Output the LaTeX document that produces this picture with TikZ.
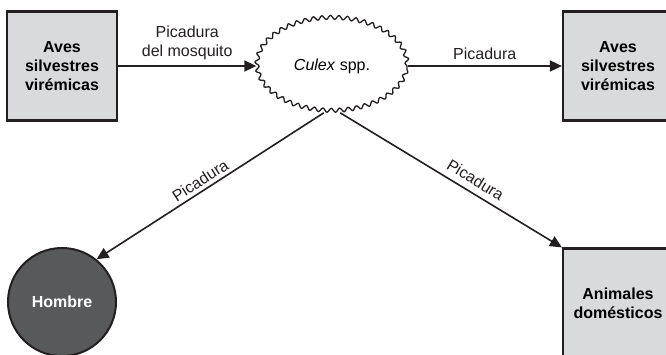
\documentclass[tikz,border=0pt]{standalone}
\usepackage{fontspec}
\setmainfont{Liberation Sans}
\usetikzlibrary{arrows.meta,positioning,shapes.geometric,decorations.pathmorphing}
\definecolor{ink}{HTML}{231F20}
\definecolor{boxgray}{HTML}{D9DADB}
\definecolor{darkgray}{HTML}{58595B}
\tikzset{
  box/.style={draw=ink, line width=2.2pt, fill=boxgray, minimum width=110pt,
    minimum height=109pt, align=center, font=\fontsize{16}{19}\selectfont\bfseries},
  host/.style={circle, draw=ink, line width=2pt, fill=darkgray, minimum size=108pt,
    text=white, font=\fontsize{16}{19}\selectfont\bfseries},
  vector/.style={ellipse, draw=ink, line width=1.3pt, fill=white, minimum width=150pt,
    minimum height=93pt, inner sep=0pt, decorate,
    decoration={snake, segment length=8.5pt, amplitude=2pt},
    font=\fontsize{16}{19}\selectfont},
  arrow/.style={-{Triangle[length=12pt,width=11pt]}, line width=1.6pt, draw=ink},
  lbl/.style={font=\fontsize{16}{19}\selectfont, text=ink, align=center}
}
\begin{document}
\begin{tikzpicture}[x=1pt,y=-1pt]
  \useasboundingbox (0,0) rectangle (666,354);
  \clip (0,0) rectangle (666,354);

  \node[box] (birds) at (62,66) {Aves\\silvestres\\virémicas};
  \node[vector] (culex) at (332,66) {\textit{Culex} spp.};
  \node[box] (birds2) at (618,66) {Aves\\silvestres\\virémicas};
  \node[host] (man) at (62,302) {Hombre};
  \node[box] (pets) at (618,303) {Animales\\domésticos};

  \draw[arrow] (birds.east) -- node[lbl,above,yshift=2pt] {Picadura\\del mosquito} (culex.west);
  \draw[arrow] (culex.east) -- node[lbl,above,yshift=2pt] {Picadura} (birds2.west);
  \draw[arrow] (culex.260) -- node[lbl,above,sloped,pos=.52] {Picadura} (man.51);
  \draw[arrow] (culex.280) -- node[lbl,above,sloped,pos=.58,yshift=3pt] {Picadura} (pets.north west);
\end{tikzpicture}
\end{document}
